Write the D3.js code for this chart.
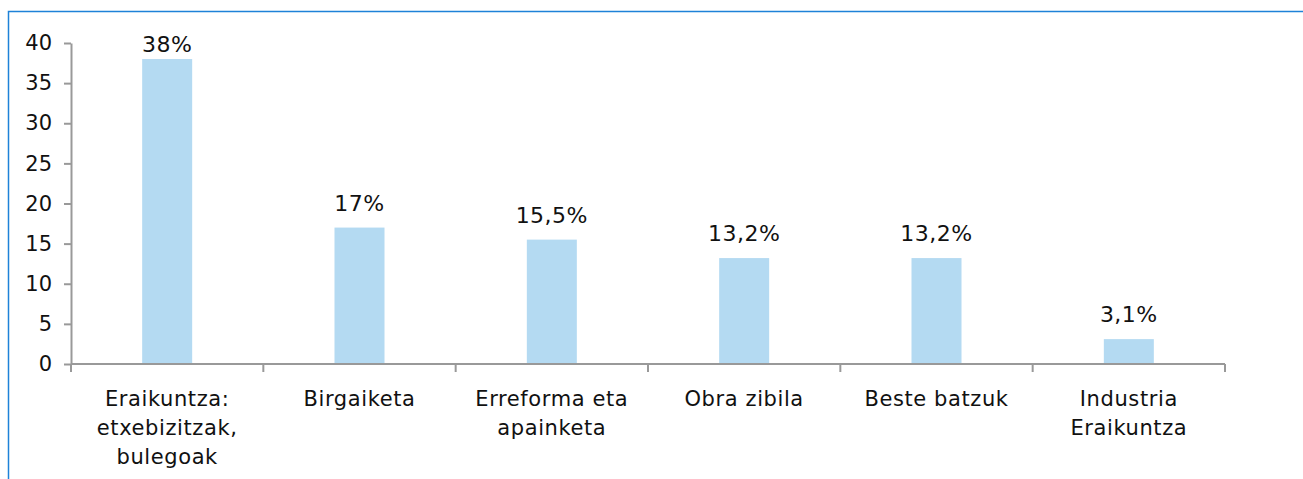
<!DOCTYPE html>
<html>
<head>
<meta charset="utf-8">
<script src="https://cdn.jsdelivr.net/npm/d3@7"></script>
<style>
  body { margin: 0; background: #fff; }
  svg { display: block; }
  text { font-family: 'DejaVu Sans', Verdana, sans-serif; fill: #111; }
</style>
</head>
<body>
<div id="chart"></div>
<script>
// data
const categories = [
  ['Eraikuntza:', 'etxebizitzak,', 'bulegoak'],
  ['Birgaiketa'],
  ['Erreforma eta', 'apainketa'],
  ['Obra zibila'],
  ['Beste batzuk'],
  ['Industria', 'Eraikuntza']
];
const values = [38, 17, 15.5, 13.2, 13.2, 3.1];
const valueLabels = ['38%', '17%', '15,5%', '13,2%', '13,2%', '3,1%'];
const yTicks = [0, 5, 10, 15, 20, 25, 30, 35, 40];

var width = 1303, height = 479;
var margin = { left: 71, right: 78, top: 43, bottom: 115 };

var svg = d3.select('#chart')
  .append('svg')
  .attr('width', width)
  .attr('height', height);

// frame
svg.append('rect')
  .attr('x', 8.5)
  .attr('y', 11.5)
  .attr('width', width)
  .attr('height', height)
  .attr('fill', 'none')
  .attr('stroke', '#1e82d8')
  .attr('stroke-width', 1.5);

var x = d3.scaleBand()
  .domain(d3.range(categories.length))
  .range([margin.left, width - margin.right])
  .paddingInner(0)
  .paddingOuter(0);

var y = d3.scaleLinear()
  .domain([0, 40])
  .range([height - margin.bottom, margin.top]);

var barW = 50;

svg.selectAll('.bar')
  .data(values)
  .enter()
  .append('rect')
  .attr('class', 'bar')
  .attr('x', function(d, i) { return x(i) + x.bandwidth() / 2 - barW / 2; })
  .attr('y', function(d) { return y(d); })
  .attr('width', barW)
  .attr('height', function(d) { return y(0) - y(d); })
  .attr('fill', '#b4daf2');

// labels sit ~17px above the bar, but never above the top of the plot
svg.selectAll('.vlabel')
  .data(values)
  .enter()
  .append('text')
  .attr('class', 'vlabel')
  .attr('x', function(d, i) { return x(i) + x.bandwidth() / 2; })
  .attr('y', function(d) { return Math.max(y(d) - 17, margin.top + 9); })
  .attr('text-anchor', 'middle')
  .attr('font-size', 22)
  .attr('letter-spacing', 0.5)
  .text(function(d, i) { return valueLabels[i]; });

// y axis
var yAxis = svg.append('g')
  .attr('transform', 'translate(' + margin.left + ',0)')
  .call(d3.axisLeft(y).tickValues(yTicks).tickSize(7).tickSizeOuter(0).tickPadding(12));
yAxis.select('.domain').attr('stroke', '#999').attr('stroke-width', 2);
yAxis.selectAll('.tick line').attr('stroke', '#999').attr('stroke-width', 2);
yAxis.selectAll('.tick text').attr('font-size', 21).attr('fill', '#111')
  .style('font-family', "'DejaVu Sans', Verdana, sans-serif");

// x axis
var xg = svg.append('g')
  .attr('transform', 'translate(0,' + y(0) + ')');
xg.append('line')
  .attr('x1', margin.left)
  .attr('x2', width - margin.right)
  .attr('stroke', '#999')
  .attr('stroke-width', 2);
xg.selectAll('.xtick')
  .data(d3.range(categories.length + 1))
  .enter()
  .append('line')
  .attr('class', 'xtick')
  .attr('x1', function(d) { return margin.left + d * x.bandwidth(); })
  .attr('x2', function(d) { return margin.left + d * x.bandwidth(); })
  .attr('y1', 0)
  .attr('y2', 8)
  .attr('stroke', '#999')
  .attr('stroke-width', 2);

var cat = xg.selectAll('.cat')
  .data(categories)
  .enter()
  .append('text')
  .attr('class', 'cat')
  .attr('text-anchor', 'middle')
  .attr('font-size', 21)
  .attr('letter-spacing', 0.6)
  .attr('y', 42);
cat.selectAll('tspan')
  .data(function(d, i) { return d.map(function(s) { return { s: s, i: i }; }); })
  .enter()
  .append('tspan')
  .attr('x', function(d) { return x(d.i) + x.bandwidth() / 2; })
  .attr('dy', function(d, j) { return j === 0 ? 0 : 29; })
  .text(function(d) { return d.s; });
</script>
</body>
</html>
